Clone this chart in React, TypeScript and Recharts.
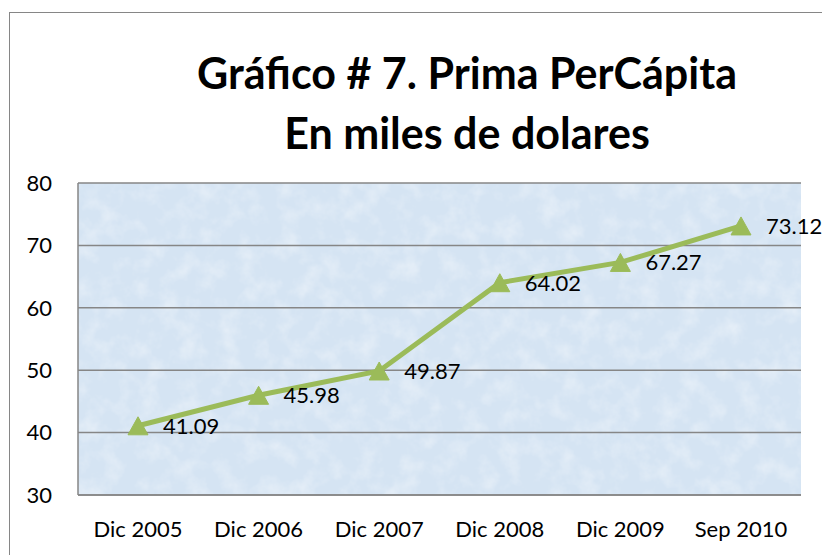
import { CartesianGrid, LabelList, Line, LineChart, XAxis, YAxis } from "recharts";

const periods = ["Dic 2005", "Dic 2006", "Dic 2007", "Dic 2008", "Dic 2009", "Sep 2010"];
const primaPerCapita = [41.09, 45.98, 49.87, 64.02, 67.27, 73.12];
const yTicks = [30, 40, 50, 60, 70, 80];
const titleLines = ["Gráfico # 7. Prima PerCápita", "En miles de dolares"];

const data = periods.map((p, i) => ({ period: p, value: primaPerCapita[i] }));

const FONT = "Lato, 'Open Sans', sans-serif";
const GREEN = "#9BBB59";
const GRAY = "#868686";

function Triangle(props: any) {
    const { cx, cy } = props;
    if (cx == null || cy == null) return null;
    const w = 20;
    const h = 18;
    return (
        <polygon
            points={`${cx - w / 2},${cy + h / 2} ${cx + w / 2},${cy + h / 2} ${cx},${cy - h / 2}`}
            fill={GREEN}
            stroke={GREEN}
        />
    );
}

export default function App() {
    return (
        <div
            style={{
                position: "absolute",
                left: 0,
                top: 0,
                width: 822,
                height: 555,
                overflow: "hidden",
                background: "#fff",
                fontFamily: FONT,
            }}
        >
            <div
                style={{
                    position: "absolute",
                    left: 9,
                    top: 12,
                    width: 900,
                    height: 600,
                    border: `1.5px solid ${GRAY}`,
                }}
            />
            <svg
                width={822}
                height={170}
                style={{ position: "absolute", left: 0, top: 0 }}
            >
                {titleLines.map((t, i) => (
                    <text
                        key={t}
                        x={467}
                        y={89 + i * 60}
                        textAnchor="middle"
                        fontFamily={FONT}
                        fontWeight={700}
                        fontSize={43}
                        fill="#000"
                    >
                        {t}
                    </text>
                ))}
            </svg>
            <div style={{ position: "absolute", left: 0, top: 0 }}>
                <LineChart
                    width={822}
                    height={555}
                    data={data}
                    margin={{ top: 183, right: 21, bottom: 0, left: 8 }}
                >
                    <defs>
                        <filter id="noise" x="0" y="0" width="100%" height="100%">
                            <feTurbulence
                                type="fractalNoise"
                                baseFrequency="0.05"
                                numOctaves={4}
                                seed={3}
                            />
                            <feColorMatrix
                                values="0 0 0 0 1  0 0 0 0 1  0 0 0 0 1  0 0 0 1.5 -0.65"
                            />
                        </filter>
                        <pattern
                            id="bgTex"
                            patternUnits="userSpaceOnUse"
                            width={822}
                            height={555}
                        >
                            <rect width={822} height={555} fill="#D5E4F3" />
                            <rect
                                width={822}
                                height={555}
                                filter="url(#noise)"
                                opacity={0.5}
                            />
                        </pattern>
                    </defs>
                    <CartesianGrid
                        vertical={false}
                        stroke={GRAY}
                        strokeWidth={1.5}
                        fill="url(#bgTex)"
                        fillOpacity={1}
                    />
                    <XAxis
                        dataKey="period"
                        padding={{ left: 60, right: 60 }}
                        stroke={GRAY}
                        strokeWidth={1.5}
                        tickLine={false}
                        tickSize={0}
                        tickMargin={26}
                        tick={{ fill: "#000", fontSize: 22, fontFamily: FONT }}
                        height={60}
                    />
                    <YAxis
                        domain={[30, 80]}
                        ticks={yTicks}
                        width={70}
                        stroke={GRAY}
                        strokeWidth={1.5}
                        tickLine={false}
                        tickSize={0}
                        tickMargin={26}
                        tick={{ fill: "#000", fontSize: 22, fontFamily: FONT }}
                    />
                    <Line
                        dataKey="value"
                        stroke={GREEN}
                        strokeWidth={5}
                        dot={<Triangle />}
                        activeDot={false}
                        isAnimationActive={false}
                    >
                        <LabelList
                            dataKey="value"
                            position="right"
                            offset={25}
                            fill="#000"
                            fontSize={22}
                            fontFamily={FONT}
                        />
                    </Line>
                </LineChart>
            </div>
        </div>
    );
}
